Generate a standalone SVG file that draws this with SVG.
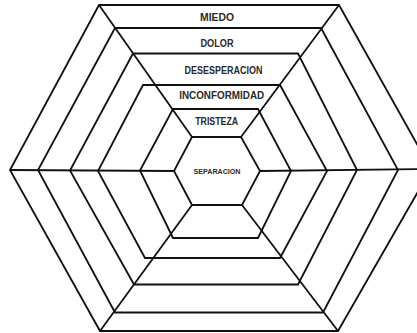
<svg xmlns="http://www.w3.org/2000/svg" width="417" height="333" viewBox="0 0 417 333">
<style>
.ring{fill:none;stroke:#111;stroke-width:1.8;stroke-linejoin:miter}
.spoke{stroke:#111;stroke-width:1.8;fill:none}
.lbl{font-family:"Liberation Sans",Arial,sans-serif;font-weight:bold;font-size:10px;fill:#2a2a2a;text-anchor:middle}
.small{font-size:6.5px}
</style>
<rect width="417" height="333" fill="#fff"/>
<g id="miedo">
<polygon class="ring" points="99,5 339,5 431,169 338,331 100,331 10,170"/>
<text class="lbl" x="217" y="20.5" textLength="34" lengthAdjust="spacingAndGlyphs">MIEDO</text>
</g>
<g id="dolor">
<polygon class="ring" points="115,28 321,28 398,170 323,312.5 115,312.5 38,170"/>
<text class="lbl" x="217" y="46.5" textLength="33" lengthAdjust="spacingAndGlyphs">DOLOR</text>
</g>
<g id="desesperacion">
<polygon class="ring" points="133,53.5 298,53.5 357,170 298,284.5 134,284.5 70,170.5"/>
<text class="lbl" x="223.5" y="73.8" textLength="78" lengthAdjust="spacingAndGlyphs">DESESPERACION</text>
</g>
<g id="inconformidad">
<polygon class="ring" points="143,85 280,85 327,171 280,258 145,258 98,171"/>
<text class="lbl" x="221.7" y="98.5" textLength="85" lengthAdjust="spacingAndGlyphs">INCONFORMIDAD</text>
</g>
<g id="tristeza">
<polygon class="ring" points="173,109 258,109 291,171 258,238 173,238 140,170.5"/>
<text class="lbl" x="216.7" y="125.3" textLength="43" lengthAdjust="spacingAndGlyphs">TRISTEZA</text>
</g>
<g id="separacion">
<polygon class="ring" points="192,137 241,137 260,171 242,205 192,205 174,171"/>
<text class="lbl small" x="217" y="174" textLength="47" lengthAdjust="spacingAndGlyphs">SEPARACION</text>
</g>
<g id="connectors">
<line class="spoke" x1="192" y1="137" x2="99" y2="5"/>
<line class="spoke" x1="241" y1="137" x2="339" y2="5"/>
<line class="spoke" x1="260" y1="171" x2="431" y2="169"/>
<line class="spoke" x1="242" y1="205" x2="338" y2="331"/>
<line class="spoke" x1="192" y1="205" x2="100" y2="331"/>
<line class="spoke" x1="174" y1="171" x2="10" y2="170"/>
</g>
</svg>
